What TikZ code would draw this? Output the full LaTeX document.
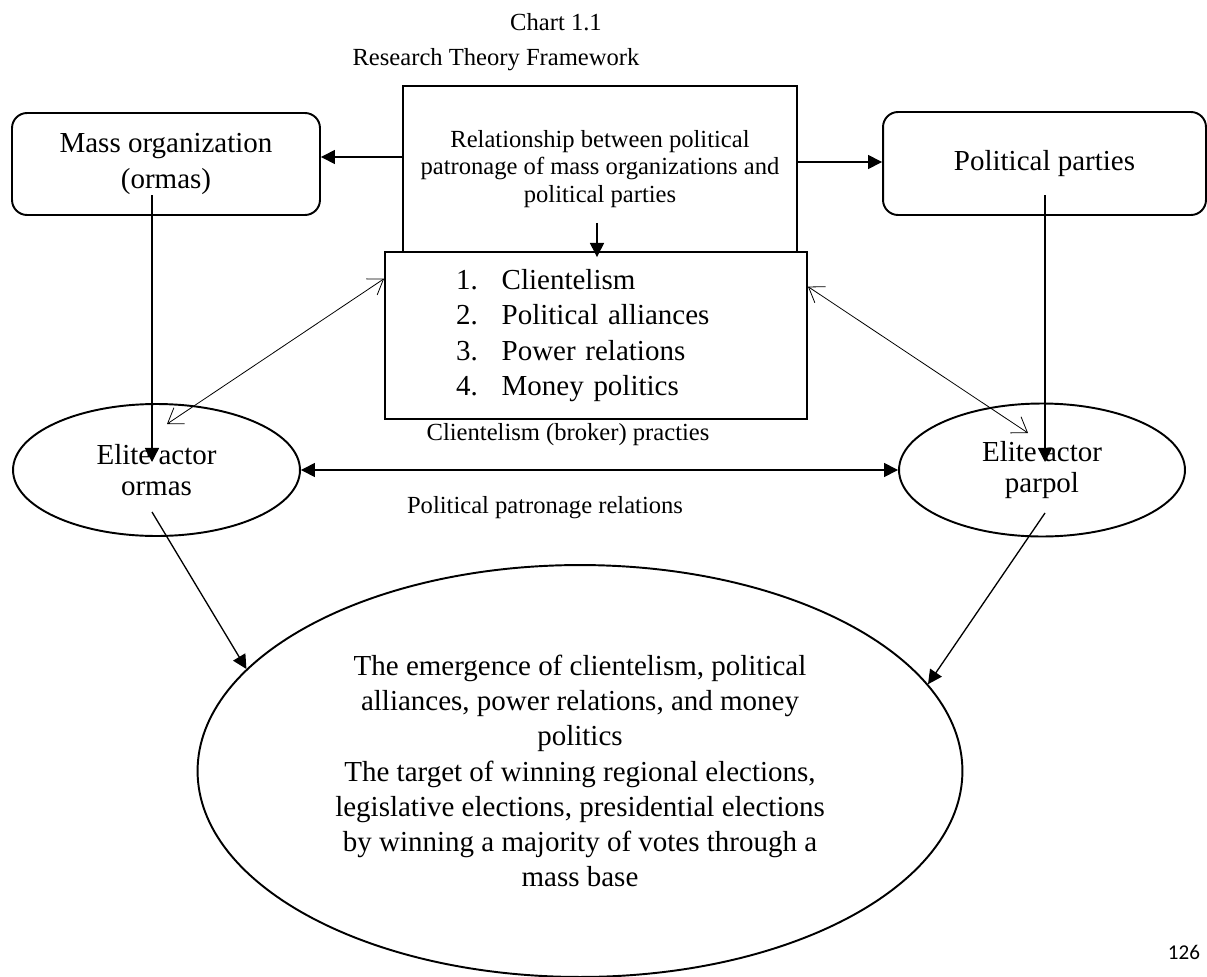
\documentclass[tikz,border=0pt]{standalone}
\usepackage{fontspec}
\setmainfont{Liberation Serif}
\newfontfamily\pagenofont{Carlito}
\usetikzlibrary{arrows.meta,shapes.geometric}
\tikzset{
  bigtxt/.style={font=\fontsize{16.5}{20}\selectfont},
  smalltxt/.style={font=\fontsize{14}{15.5}\selectfont},
  roundbox/.style={draw, line width=1.1pt, rounded corners=0.3cm, align=center, bigtxt},
  plainbox/.style={draw, line width=1.1pt},
  actor/.style={draw, ellipse, line width=1.1pt, inner sep=0pt, align=center, font=\fontsize{16.5}{18}\selectfont},
  thinlink/.style={line width=0.45pt, {Straight Barb[length=8pt,width=11pt]}-{Straight Barb[length=8pt,width=11pt]}},
}

\begin{document}
\begin{tikzpicture}[>={Triangle[length=8pt,width=8pt]}, x=0.02cm, y=-0.02cm, line width=0.75pt]
\useasboundingbox (0,0) rectangle (1207,977);
\node (chart) at (556,22)[smalltxt]{Chart 1.1};
\node (title) at (496,60)[smalltxt]{Research Theory Framework};
\node (rel) at (600,169)[plainbox, smalltxt, align=center, minimum width=7.88cm, minimum height=3.32cm]{Relationship between political\\patronage of mass organizations and\\political parties};
\node (factors) at (596,335.5)[plainbox, bigtxt, minimum height=3.34cm, text width=5.6cm, inner xsep=1.42cm, align=left]{%
  \begin{tabular}{@{}p{26pt}@{}l@{}}1.&Clientelism\\2.&Political alliances\\3.&Power relations\\4.&Money politics\end{tabular}};
\node (mass) at (166,164)[roundbox, minimum width=6.16cm, minimum height=2.04cm]{Mass organization\\(ormas)};
\node (parties) at (1044.5,163.5)[roundbox, minimum width=6.46cm, minimum height=2.06cm]{Political parties};
\node (eorm) at (156.5,470)[actor, minimum width=5.74cm, minimum height=2.64cm]{Elite actor\\ormas};
\node (epar) at (1042,470)[actor, minimum width=5.72cm, minimum height=2.66cm]{Elite actor\\parpol};
\node (outcome) at (580,771)[actor, bigtxt, minimum width=15.3cm, minimum height=8.24cm]{The emergence of clientelism, political\\alliances, power relations, and money\\politics\\The target of winning regional elections,\\legislative elections, presidential elections\\by winning a majority of votes through a\\mass base};
\node (broker) at (568,435)[smalltxt]{Clientelism (broker) practies};
\node (patron) at (545,508)[smalltxt]{Political patronage relations};
\node (page) at (1184,952)[font=\pagenofont\fontsize{12}{14}\selectfont]{126};
% links from the top box
\coordinate (relw) at ([shift={(0,-12)}]rel.west);
\coordinate (rele) at ([shift={(0,-7)}]rel.east);
\draw[->](relw)--(relw -| mass.east);
\draw[->](rele)--(rele -| parties.west);
\draw[->]([shift={(-3,-30)}]rel.south)--([shift={(1,6)}]factors.north);
% down to the elite actors
\draw[->]([shift={(-14,31)}]mass.center)--++(0,267);
\draw[->]([shift={(0.5,31.5)}]parties.center)--++(0,267);
\draw[<->](eorm)--(epar);
\draw[thinlink]([shift={(10.5,-46)}]eorm.center)--(factors.165.8);
\draw[thinlink](factors.13.5)--([shift={(-14,-37)}]epar.center);
% to the outcome
\draw[->]([shift={(-4.5,42)}]eorm.center)--(outcome.163.6);
\draw[->]([shift={(3,43)}]epar.center)--(outcome.14.6);
\end{tikzpicture}
\end{document}
